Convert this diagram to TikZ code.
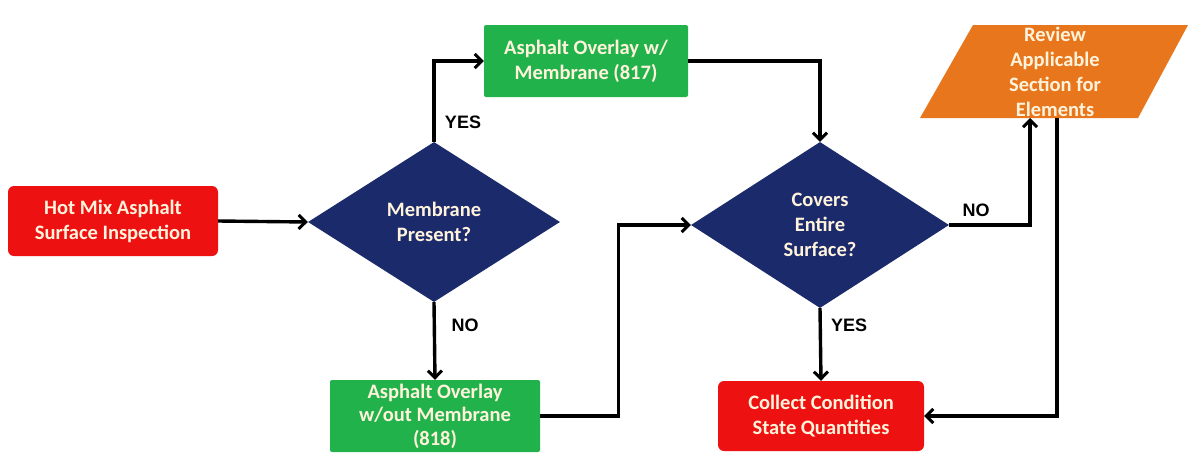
\documentclass[tikz,border=0pt]{standalone}
\usepackage{fontspec}
\setmainfont{Carlito}
\newfontfamily\lblfont{Liberation Sans}
\usetikzlibrary{shapes.geometric,arrows.meta,calc}
\definecolor{boxred}{HTML}{EE1111}
\definecolor{boxgreen}{HTML}{22B24C}
\definecolor{navy}{HTML}{1B2A6B}
\definecolor{orng}{HTML}{E8761C}
\definecolor{cream}{HTML}{FFF3DC}
\tikzset{
  box/.style={text=cream, font=\bfseries\fontsize{20.5}{25}\selectfont, align=center, inner sep=0pt},
  redbox/.style={box, fill=boxred, rounded corners=6pt, minimum width=210pt, minimum height=70pt},
  greenbox/.style={box, fill=boxgreen, rounded corners=2pt, minimum width=206pt, minimum height=72pt},
  dec/.style={box, diamond, fill=navy, inner sep=0pt},
  conn/.style={line width=3.4pt, -{Straight Barb[length=7pt,width=14pt,line width=3pt]}},
  lbl/.style={font=\lblfont\bfseries\fontsize{18}{20}\selectfont}
}
\begin{document}
\begin{tikzpicture}[x=1pt,y=-1pt]
\useasboundingbox[fill=white] (0,0) rectangle (1188,456);
\node[redbox] (hm) at (113,221) {Hot Mix Asphalt\\Surface Inspection};
\node[dec, minimum width=252pt, minimum height=160pt] (d1) at (434,222) {Membrane\\Present?};
\node[greenbox, minimum width=204pt] (g1) at (586,61) {Asphalt Overlay w/\\Membrane (817)};
\node[greenbox, minimum width=210pt, font=\bfseries\fontsize{20.5}{23.5}\selectfont] (g2) at (435,416) {Asphalt Overlay\\w/out Membrane\\(818)};
\node[dec, minimum width=258pt, minimum height=166pt] (d2) at (820,225) {Covers\\Entire\\Surface?};
\node[redbox, minimum width=206pt] (cc) at (821,416) {Collect Condition\\State Quantities};
% parallelogram
\coordinate (p1) at (973,25);
\coordinate (p2) at (1188,25);
\coordinate (p3) at (1138,118);
\coordinate (p4) at (920,118);
\fill[orng] (p1) -- (p2) -- (p3) -- (p4) -- cycle;
\node[box] (rev) at (1055,72) {Review\\Applicable\\Section for\\Elements};
\coordinate (revin) at (1030,118);
\coordinate (revout) at (1057,118);
% connectors
\draw[conn] (hm.east) -- (d1.west);
\draw[conn] (d1.north) |- (g1.west);
\draw[conn] (d1.south) -- (g2.north);
\draw[conn] (g1.east) -| (d2.north);
\draw[conn] (g2.east) -- ++(78,0) |- (d2.west);
\draw[conn] (d2.east) -| (revin);
\draw[conn] (d2.south) -- (cc.north);
\draw[conn] (revout) |- (cc.east);
% labels
\node[lbl] (yes1) at (463,122) {YES};
\node[lbl] (no1) at (465,325) {NO};
\node[lbl] (no2) at (976,210) {NO};
\node[lbl] (yes2) at (849,325) {YES};
\end{tikzpicture}
\end{document}
